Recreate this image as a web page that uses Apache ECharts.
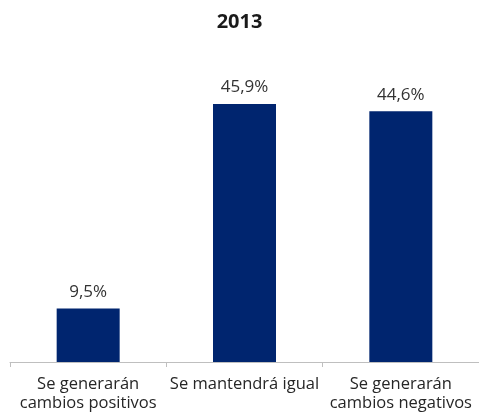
<!DOCTYPE html>
<html><head><meta charset="utf-8">
<script src="https://cdn.jsdelivr.net/npm/echarts@6/dist/echarts.min.js"></script>
<style>html,body{margin:0;padding:0;background:#fff}#c{width:479px;height:413px}</style>
</head><body><div id="c"></div>
<script>
const categories = ['Se generarán\ncambios positivos', 'Se mantendrá igual', 'Se generarán\ncambios negativos'];
const values = [9.5, 45.9, 44.6];
const titleText = '2013';

const chart = echarts.init(document.getElementById('c'), null, {renderer: 'canvas'});
chart.setOption({
  animation: false,
  title: {text: titleText, left: 'center', top: 7,
    textStyle: {fontFamily: 'Open Sans', fontSize: 20, fontWeight: 'bold', color: '#1a1a1a'}},
  grid: {left: 10, right: -5, top: 81, bottom: 51, containLabel: false},
  xAxis: {type: 'category', data: categories,
    axisLine: {lineStyle: {color: '#bfbfbf', width: 1}},
    axisTick: {show: true, length: 5, alignWithLabel: false, lineStyle: {color: '#bfbfbf'}},
    axisLabel: {interval: 0, margin: 13, lineHeight: 19,
      fontFamily: 'Open Sans', fontSize: 16.5, color: '#262626'}},
  yAxis: {type: 'value', min: 0, max: 50, show: false, splitLine: {show: false}},
  series: [{type: 'bar', data: values, barWidth: 63,
    itemStyle: {color: '#00256F'},
    label: {show: true, position: 'top', distance: 8,
      fontFamily: 'Open Sans', fontSize: 17, color: '#333333',
      formatter: p => p.value.toFixed(1).replace('.', ',') + '%'}}]
});
</script></body></html>
